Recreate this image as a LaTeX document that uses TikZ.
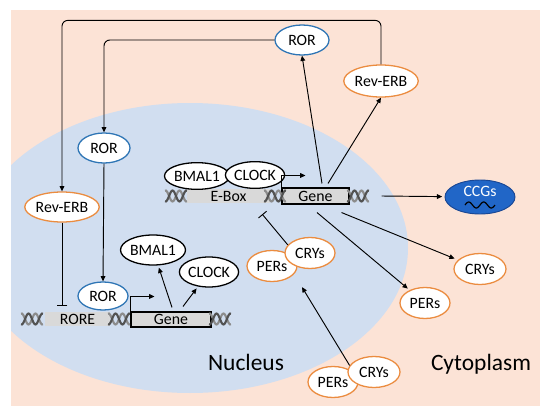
\documentclass[tikz,border=0pt]{standalone}
\usepackage{fontspec}
\setmainfont{Carlito}
\usetikzlibrary{positioning, calc, shapes.geometric, arrows.meta}
\definecolor{CytoColor}{rgb}{0.99,0.89,0.84}
\definecolor{NucleusColor}{rgb}{0.82,0.87,0.94}
\definecolor{OrangeLine}{rgb}{0.92,0.55,0.25}
\definecolor{BlueLine}{rgb}{0.18,0.46,0.71}
\definecolor{CcgColor}{rgb}{0.13,0.40,0.78}
\definecolor{CcgLine}{rgb}{0.10,0.28,0.58}
\definecolor{SiteColor}{rgb}{0.85,0.85,0.85}
\tikzset{
    prot/.style={
        ellipse,
        draw=#1,
        fill=white,
        line width=1.1pt,
        inner sep=0pt,
        minimum width=1.56cm,
        minimum height=0.9cm,
        font=\fontsize{13.5}{16}\selectfont
    },
    pc/.style={prot=OrangeLine, minimum width=1.5cm, minimum height=0.93cm},
    site/.style={fill=SiteColor, inner sep=0pt, minimum height=0.42cm, font=\fontsize{13.5}{16}\selectfont},
    genebox/.style={draw=black, fill=SiteColor, line width=0.9pt, inner sep=0pt, font=\fontsize{13.5}{16}\selectfont},
    act/.style={-{Triangle[length=4.5pt,width=4pt]}, line width=0.8pt},
    inh/.style={-{Bar[width=9pt]}, line width=0.8pt},
    helix/.pic={
        \draw[black!45, line width=1.8pt] plot[domain=-11:11, samples=25, smooth] (\x, {-5.5*sin(\x*26)});
        \draw[black!68, line width=1.8pt] plot[domain=-11:11, samples=25, smooth] (\x, {5.5*sin(\x*26)});
    }
}

\begin{document}
\begin{tikzpicture}[x=0.03cm, y=-0.03cm]
\useasboundingbox (0,0) rectangle (550,417);

% Cell background
\fill[CytoColor] (11,10) rectangle (540,406);
\begin{scope}
    \clip (11,10) rectangle (540,406);
    \fill[NucleusColor] (190,248) ellipse [x radius=218, y radius=145];
\end{scope}

% E-Box promoter (top)
\node[site, minimum width=2.49cm] (ebox) at (228.5,196) {E-Box};
\node[genebox, minimum width=2.01cm, minimum height=0.48cm] (gene_e) at (315.5,196) {Gene};
\pic at (176,196) {helix};
\pic at (275,196) {helix};
\pic at (358,196) {helix};

% RORE promoter (bottom)
\node[site, minimum width=1.95cm] (rore) at (77.5,319) {RORE};
\node[genebox, minimum width=2.4cm, minimum height=0.45cm] (gene_r) at (171,319.5) {Gene};
\pic at (32,319) {helix};
\pic at (119,319) {helix};
\pic at (220,319) {helix};

% Proteins
\node[prot=BlueLine, minimum width=1.62cm] (ror_top) at (302,40) {ROR};
\node[prot=BlueLine] (ror_mid) at (104,148) {ROR};
\node[prot=BlueLine, minimum width=1.5cm, minimum height=0.84cm] (ror_low) at (103,296) {ROR};
\node[prot=OrangeLine, minimum width=1.8cm, minimum height=0.96cm] (rev_top) at (381,81) {Rev-ERB};
\node[prot=OrangeLine, minimum width=1.8cm] (rev_left) at (62,207) {Rev-ERB};
\node[prot=black, minimum width=1.9cm, minimum height=0.8cm] (bmal_e) at (197,176) {BMAL1};
\node[prot=black, minimum height=0.8cm] (clock_e) at (255,175) {CLOCK};
\node[prot=black, minimum width=1.8cm] (bmal_r) at (153,250) {BMAL1};
\node[prot=black] (clock_r) at (209,272) {CLOCK};
\node[pc] (pers_n) at (272,266) {PERs};
\node[pc] (crys_n) at (310,253) {CRYs};
\node[pc] (pers_c) at (333,382) {PERs};
\node[pc, minimum width=1.56cm] (crys_c) at (374,372) {CRYs};
\node[pc] (pers_r) at (425,303) {PERs};
\node[pc, minimum width=1.56cm] (crys_r) at (480,269) {CRYs};

% CCGs
\node[ellipse, fill=CcgColor, draw=CcgLine, line width=0.8pt, minimum width=2.1cm, minimum height=1.02cm] (ccgs) at (480,197) {};
\node[text=white, font=\fontsize{13.5}{16}\selectfont] (ccgs_txt) at ($(ccgs.center)+(0,-6)$) {CCGs};
\draw[line width=1pt] plot[domain=0:30, samples=40, smooth] ({465+\x}, {205-3*sin(\x*24)});

% Transcription start arrows
\draw[act] (gene_e.north west) -- ++(0,-12) -- ++(24,0);
\draw[act] (gene_r.north west) -- ++(0,-15) -- ++(24,0);

% Loops through the cytoplasm
\draw[act, rounded corners=5pt] (rev_top.north) -- ++(0,-44) -| (rev_left.north);
\draw[act, rounded corners=5pt] (ror_top.west) -| (ror_mid.north);
\draw[act] (ror_mid.south) -- (ror_low.north);
\draw[inh] (rev_left.south) -- ($(rev_left.south |- rore.north)+(0,-6)$);

% From the E-Box gene
\draw[act] ($(gene_e.north)+(6.5,-4)$) -- (ror_top.south);
\draw[act] ($(gene_e.north)+(12.5,-4)$) -- (rev_top.south);
\draw[act, shorten >=2pt] ($(gene_e.east)+(32,0)$) -- (ccgs);
\draw[act, shorten >=3pt] ($(gene_e.south)+(26,8)$) -- (crys_r);
\draw[act, shorten >=2pt] ($(gene_e.south)+(1.5,8)$) -- (pers_r);

% From the RORE gene
\draw[act, shorten >=2pt] ($(gene_r.north)+(1,-4)$) -- (bmal_r);
\draw[act, shorten >=2pt] ($(gene_r.north)+(12,-5)$) -- (clock_r);

% PERs / CRYs
\draw[act] (crys_c.165) -- ($(crys_n.south)+(-8,18)$);
\draw[inh] (crys_n.160) -- ($(ebox.south east)+(-8,11)$);

% Compartments
\node[font=\fontsize{20}{24}\selectfont] (nuc_lbl) at (246,362) {Nucleus};
\node[font=\fontsize{20}{24}\selectfont] (cyto_lbl) at (481,364) {Cytoplasm};

\end{tikzpicture}
\end{document}
